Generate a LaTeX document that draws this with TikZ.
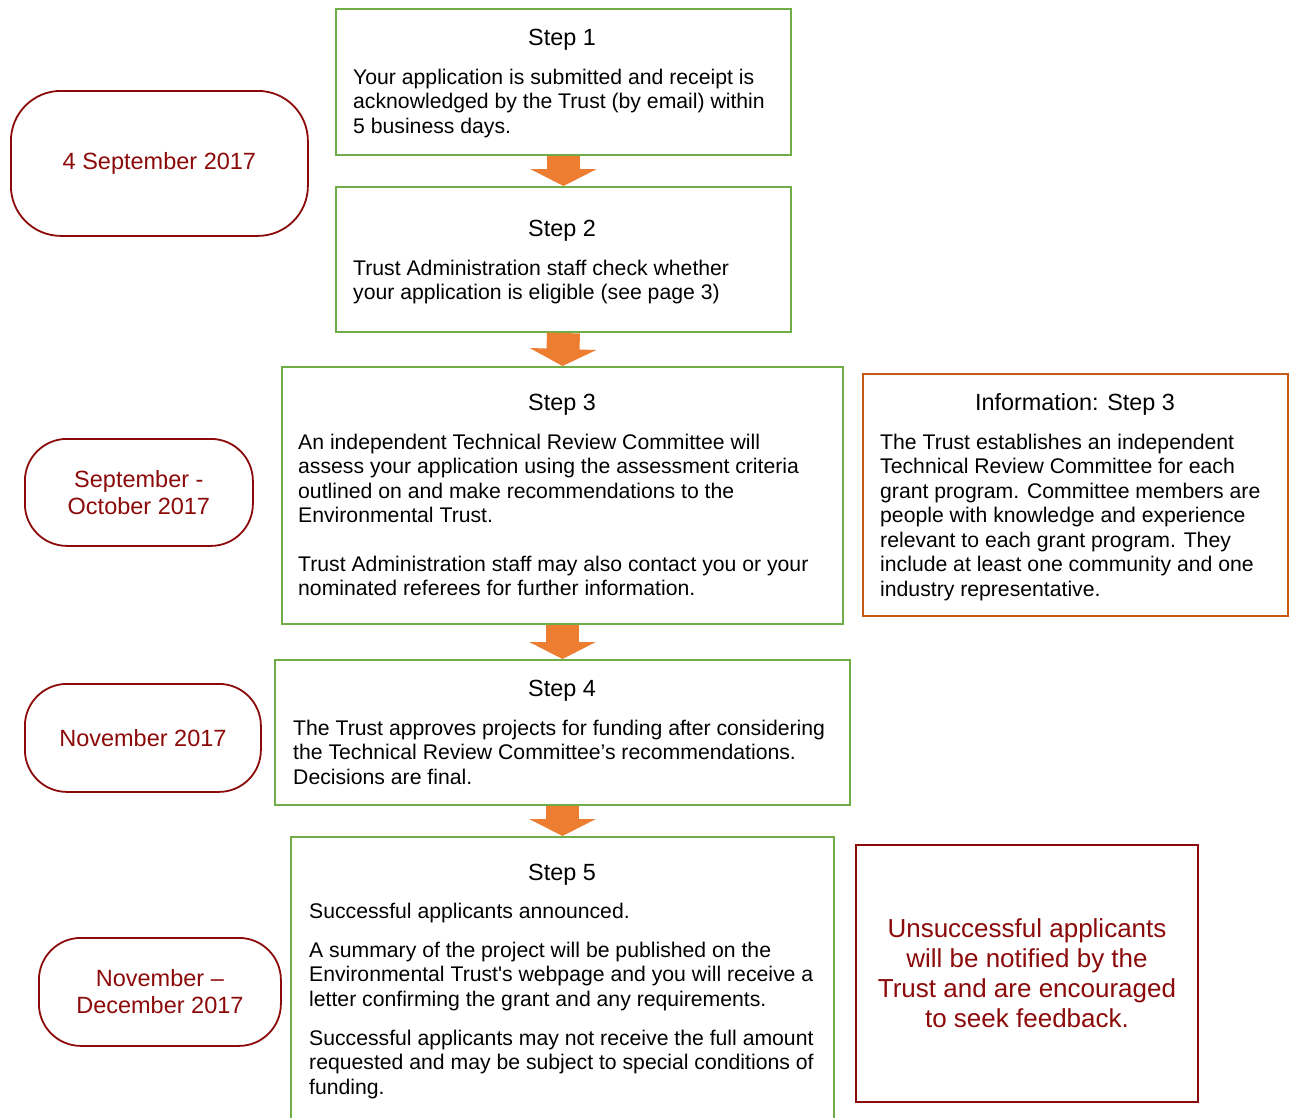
\documentclass[tikz,border=0pt]{standalone}
\usepackage{fontspec}
\setmainfont{Liberation Sans}[Ligatures=TeXOff]
\usetikzlibrary{arrows.meta}
\definecolor{stepgreen}{RGB}{112,173,71}
\definecolor{arroworange}{RGB}{237,125,49}
\definecolor{infobrown}{RGB}{197,90,17}
\definecolor{datered}{RGB}{140,10,10}
\tikzset{
  stepbox/.style={draw=stepgreen, line width=2pt, anchor=north west, inner sep=0pt},
  infobox/.style={draw=infobrown, line width=2pt, anchor=north west, inner sep=0pt},
  redbox/.style={draw=datered, line width=2pt, anchor=north west, inner sep=0pt, text=datered,
    align=center, font=\fontsize{26}{30}\selectfont},
  datebox/.style={draw=datered, line width=1.8pt, anchor=north west, inner sep=0pt, text=datered,
    align=center, font=\fontsize{23.5}{27}\selectfont, rounded corners=#1},
  datebox/.default=42pt,
  bodytxt/.style={font=\fontsize{21.2}{24.5}\selectfont, align=left, inner sep=0pt, anchor=base west},
  titletxt/.style={font=\fontsize{23.4}{27}\selectfont, inner sep=0pt, anchor=base},
  flow/.style={draw=arroworange, line width=33pt, -{Triangle[width=66pt,length=17pt]}}
}
\begin{document}
\begin{tikzpicture}[x=1pt,y=-1pt]
\useasboundingbox (0,0) rectangle (1291,1117);
\clip (0,0) rectangle (1291,1117);
\fill[white] (0,0) rectangle (1291,1117);

% step boxes
\node[stepbox, minimum width=455pt, minimum height=146pt] (s1) at (335,8) {};
\node[stepbox, minimum width=455pt, minimum height=145pt] (s2) at (335,186) {};
\node[stepbox, minimum width=561pt, minimum height=257pt] (s3) at (281,366) {};
\node[stepbox, minimum width=575pt, minimum height=145pt] (s4) at (274,659) {};
\node[stepbox, minimum width=543pt, minimum height=300pt] (s5) at (290,836) {};

% side boxes
\node[infobox, minimum width=425pt, minimum height=242pt] (info) at (862,373) {};
\node[redbox, minimum width=342pt, minimum height=257pt] (unsucc) at (855,844)
  {Unsuccessful applicants\\will be notified by the\\Trust and are encouraged\\to seek feedback.};

% date boxes
\node[datebox=50pt, minimum width=297pt, minimum height=145pt] (d1) at (10,90) {4 September 2017};
\node[datebox, minimum width=228pt, minimum height=107pt] (d2) at (24,438) {September -\\October 2017};
\node[datebox, minimum width=236pt, minimum height=108pt] (d3) at (24,683) {November 2017};
\node[datebox, minimum width=242pt, minimum height=108pt] (d4) at (38,937) {November –\\December 2017};

% texts (base anchor = baseline of the last line)
\node[titletxt] (t1) at (562,45) {Step 1};
\node[bodytxt] (b1) at (353,133) {Your application is submitted and receipt is\\acknowledged by the Trust (by email) within\\5 business days.};

\node[titletxt] (t2) at (562,236) {Step 2};
\node[bodytxt] (b2) at (353,299.5) {Trust Administration staff check whether\\your application is eligible (see page 3)};

\node[titletxt] (t3) at (562,410) {Step 3};
\node[bodytxt] (b3a) at (298,522.5) {An independent Technical Review Committee will\\assess your application using the assessment criteria\\outlined on and make recommendations to the\\Environmental Trust.};
\node[bodytxt] (b3b) at (298,595.5) {Trust Administration staff may also contact you or your\\nominated referees for further information.};

\node[titletxt] (ti) at (1075,410) {Information: Step 3};
\node[bodytxt] (bi) at (880,596) {The Trust establishes an independent\\Technical Review Committee for each\\grant program. Committee members are\\people with knowledge and experience\\relevant to each grant program. They\\include at least one community and one\\industry representative.};

\node[titletxt] (t4) at (562,696) {Step 4};
\node[bodytxt] (b4) at (293,784) {The Trust approves projects for funding after considering\\the Technical Review Committee’s recommendations.\\Decisions are final.};

\node[titletxt] (t5) at (562,880) {Step 5};
\node[bodytxt] (b5a) at (309,918) {Successful applicants announced.};
\node[bodytxt] (b5b) at (309,1006) {A summary of the project will be published on the\\Environmental Trust's webpage and you will receive a\\letter confirming the grant and any requirements.};
\node[bodytxt] (b5c) at (309,1094) {Successful applicants may not receive the full amount\\requested and may be subject to special conditions of\\funding.};

% arrows
\draw[flow] (s1.south) -- (s2.north);
\draw[flow] (s2.south) -- (s3.north);
\draw[flow] (s3.south) -- (s4.north);
\draw[flow] (s4.south) -- (s5.north);
\end{tikzpicture}
\end{document}
